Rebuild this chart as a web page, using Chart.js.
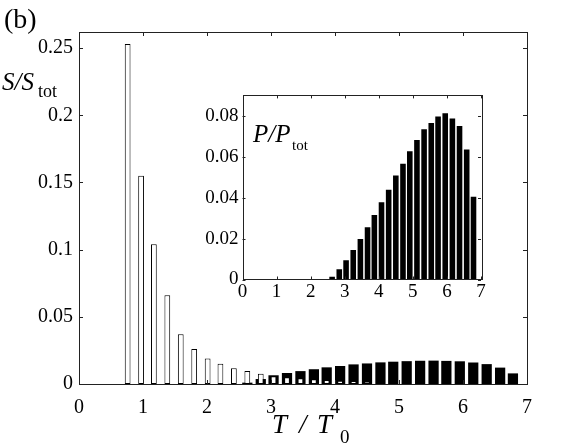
<!DOCTYPE html>
<html>
<head>
  <title>S/Stot and P/Ptot histogram</title>
  <script src="https://cdn.jsdelivr.net/npm/chart.js@4.4.0/dist/chart.umd.min.js"></script>
  <style>
    body { margin: 0; background: #fff; }
    #wrap { position: relative; width: 581px; height: 447px; }
    #mainChart { position: absolute; left: 0; top: 0; }
    #insetChart { position: absolute; left: 195px; top: 80px; }
  </style>
</head>
<body>
<div id="wrap">
  <canvas id="mainChart" width="581" height="447"></canvas>
  <canvas id="insetChart" width="295" height="230"></canvas>
</div>
<script>
  // bin centres in T/T0
  const binCenters = [0.76, 0.97, 1.17, 1.38, 1.59, 1.80, 2.01, 2.21, 2.42, 2.63,
                      2.84, 3.04, 3.25, 3.46, 3.67, 3.87, 4.08, 4.29, 4.50, 4.71,
                      4.91, 5.12, 5.33, 5.54, 5.74, 5.95, 6.16, 6.37, 6.58, 6.78];

  // S/Stot, open bars
  const sOpen = [0.253, 0.155, 0.104, 0.066, 0.037, 0.026, 0.019, 0.015, 0.0117, 0.0097,
                 0.0077, 0.0058, 0.0050, 0.0042, 0.0035, 0.0030, 0.0025, 0.0022, 0.0019, 0.0015,
                 0.0012, 0.0010, 0.0009, 0.0007, 0.0006, 0.0005, 0.0004, 0.0003, 0.0002, 0.0001];

  // S/Stot, filled bars
  const sFilled = [0, 0, 0, 0, 0, 0, 0, 0, 0, 0.0010,
                   0.0037, 0.0065, 0.0082, 0.0096, 0.0110, 0.0124, 0.0134, 0.0146, 0.0153, 0.0161,
                   0.0166, 0.0170, 0.0173, 0.0174, 0.0172, 0.0169, 0.0160, 0.0148, 0.0122, 0.0079];

  // inset: P/Ptot
  const insetCenters = [2.63, 2.84, 3.04, 3.25, 3.46, 3.67, 3.87, 4.08, 4.29, 4.50, 4.71,
                        4.91, 5.12, 5.33, 5.54, 5.74, 5.95, 6.16, 6.37, 6.58, 6.78];
  const pValues = [0.0013, 0.0050, 0.0094, 0.0144, 0.0198, 0.0256, 0.0315, 0.0378, 0.0439, 0.0508, 0.0566,
                   0.0627, 0.0682, 0.0734, 0.0765, 0.0797, 0.0813, 0.0787, 0.0750, 0.0635, 0.0405];

  const mainXTicks = [0, 1, 2, 3, 4, 5, 6, 7];
  const mainYTicks = [0, 0.05, 0.1, 0.15, 0.2, 0.25];
  const insetXTicks = [0, 1, 2, 3, 4, 5, 6, 7];
  const insetYTicks = [0, 0.02, 0.04, 0.06, 0.08];

  const serif = "'Liberation Serif', 'Times New Roman', serif";
  Chart.defaults.font.family = serif;

  function pts(xs, ys) {
    return xs.map((x, i) => ({x: x, y: ys[i]}));
  }

  function fmt(v) {
    return String(+(+v).toFixed(3));
  }

  // matlab style box with ticks pointing inward
  function boxPlugin(tickLen) {
    return {
      id: 'box',
      afterDraw(chart) {
        const ctx = chart.ctx, a = chart.chartArea;
        const xs = chart.scales.x, ys = chart.scales.y;
        ctx.save();
        ctx.strokeStyle = '#222';
        ctx.lineWidth = 1;
        ctx.beginPath();
        xs.ticks.forEach(t => {
          const px = Math.round(xs.getPixelForValue(t.value)) + 0.5;
          ctx.moveTo(px, a.bottom); ctx.lineTo(px, a.bottom - tickLen);
          ctx.moveTo(px, a.top); ctx.lineTo(px, a.top + tickLen);
        });
        ys.ticks.forEach(t => {
          const py = Math.round(ys.getPixelForValue(t.value)) + 0.5;
          ctx.moveTo(a.left, py); ctx.lineTo(a.left + tickLen, py);
          ctx.moveTo(a.right, py); ctx.lineTo(a.right - tickLen, py);
        });
        ctx.stroke();
        ctx.strokeRect(Math.round(a.left) + 0.5, Math.round(a.top) + 0.5,
                       Math.round(a.right - a.left), Math.round(a.bottom - a.top));
        ctx.restore();
      }
    };
  }

  function labelPlugin(items) {
    return {
      id: 'labels',
      afterDraw(chart) {
        const ctx = chart.ctx;
        ctx.save();
        ctx.fillStyle = '#000';
        ctx.textBaseline = 'alphabetic';
        ctx.textAlign = 'left';
        items.forEach(it => {
          ctx.font = it.font;
          ctx.fillText(it.text, it.x, it.y);
        });
        ctx.restore();
      }
    };
  }

  const mainChart = new Chart(document.getElementById('mainChart').getContext('2d'), {
    type: 'bar',
    data: {
      datasets: [
        {
          data: pts(binCenters, sOpen),
          backgroundColor: '#fff',
          borderColor: '#000',
          borderWidth: 1,
          borderSkipped: false,
          barPercentage: 0.45,
          categoryPercentage: 1,
          grouped: false
        },
        {
          data: pts(binCenters, sFilled),
          backgroundColor: '#000',
          borderWidth: 0,
          barPercentage: 0.8,
          categoryPercentage: 1,
          grouped: false
        }
      ]
    },
    options: {
      responsive: false,
      animation: false,
      devicePixelRatio: 1,
      layout: {padding: {left: 0, top: 32, right: 54, bottom: 0}},
      plugins: {legend: {display: false}, tooltip: {enabled: false}},
      scales: {
        x: {
          type: 'linear', min: 0, max: 7, offset: false,
          grid: {display: false, drawTicks: false},
          border: {display: false},
          afterBuildTicks: s => { s.ticks = mainXTicks.map(v => ({value: v})); },
          afterFit: s => { s.height = 63; },
          ticks: {color: '#000', padding: 12, maxRotation: 0, font: {family: serif, size: 20}, callback: fmt}
        },
        y: {
          min: 0, max: 0.262,
          grid: {display: false, drawTicks: false},
          border: {display: false},
          afterBuildTicks: s => { s.ticks = mainYTicks.map(v => ({value: v})); },
          afterFit: s => { s.width = 79; },
          ticks: {color: '#000', padding: 6, font: {family: serif, size: 20}, callback: fmt}
        }
      }
    },
    plugins: [boxPlugin(4), labelPlugin([
      {text: '(b)', x: 4, y: 28, font: '28px ' + serif},
      {text: 'S/S', x: 2, y: 90, font: 'italic 25px ' + serif},
      {text: 'tot', x: 38, y: 97, font: '18px ' + serif},
      {text: 'T', x: 272, y: 433, font: 'italic 27px ' + serif},
      {text: '/', x: 299, y: 433, font: 'italic 27px ' + serif},
      {text: 'T', x: 317, y: 433, font: 'italic 27px ' + serif},
      {text: '0', x: 340, y: 443, font: '19px ' + serif}
    ])]
  });

  const insetChart = new Chart(document.getElementById('insetChart').getContext('2d'), {
    type: 'bar',
    data: {
      datasets: [{
        data: pts(insetCenters, pValues),
        backgroundColor: '#000',
        borderWidth: 0,
        barPercentage: 0.82,
        categoryPercentage: 1
      }]
    },
    options: {
      responsive: false,
      animation: false,
      devicePixelRatio: 1,
      layout: {padding: {left: 0, top: 9, right: 9, bottom: 0}},
      plugins: {legend: {display: false}, tooltip: {enabled: false}},
      scales: {
        x: {
          type: 'linear', min: 0, max: 7, offset: false,
          grid: {display: false, drawTicks: false},
          border: {display: false},
          afterBuildTicks: s => { s.ticks = insetXTicks.map(v => ({value: v})); },
          afterFit: s => { s.height = 30.5; },
          ticks: {color: '#000', padding: 1, maxRotation: 0, font: {family: serif, size: 19}, callback: fmt}
        },
        y: {
          min: 0, max: 0.09,
          grid: {display: false, drawTicks: false},
          border: {display: false},
          afterBuildTicks: s => { s.ticks = insetYTicks.map(v => ({value: v})); },
          afterFit: s => { s.width = 47.5; },
          ticks: {color: '#000', padding: 4, font: {family: serif, size: 19}, callback: fmt}
        }
      }
    },
    plugins: [boxPlugin(3), labelPlugin([
      {text: 'P/P', x: 58, y: 62, font: 'italic 25px ' + serif},
      {text: 'tot', x: 97, y: 70, font: '15px ' + serif}
    ])]
  });
</script>
</body>
</html>
